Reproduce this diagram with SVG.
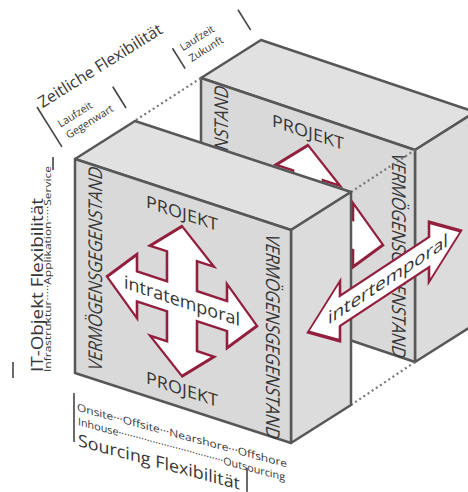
<svg xmlns="http://www.w3.org/2000/svg" width="468" height="492" viewBox="0 0 468 492">
  <style>
    .txt { font-family: "Open Sans", "DejaVu Sans", sans-serif; fill: #363636; }
    .face-front { fill: #d9d9d9; stroke: #575757; stroke-width: 2.5; stroke-linejoin: round; }
    .face-top { fill: #e1e1e1; stroke: #575757; stroke-width: 2.5; stroke-linejoin: round; }
    .face-side { fill: #dcdcdc; stroke: #575757; stroke-width: 2.5; stroke-linejoin: round; }
    .arrow { fill: #ffffff; stroke: #921f3e; stroke-width: 2.6; stroke-linejoin: miter; }
    .tick { stroke: #444444; stroke-width: 1.6; fill: none; }
    .dotted { stroke: #777777; stroke-width: 2.2; stroke-dasharray: 2 3; fill: none; }
  </style>
  <defs>
    <!-- contents of a block's front face, in face coordinates (skewed 18°) -->
    <path id="cross" class="arrow"
      d="M107,32 L139,62 L122,62 L122,92 L152,92 L152,75 L182,107 L152,139 L152,122 L122,122 L122,152 L139,152 L107,182 L75,152 L92,152 L92,122 L62,122 L62,139 L32,107 L62,75 L62,92 L92,92 L92,62 L75,62 Z"/>
    <text id="label-top" class="txt" x="107" y="25" font-size="17" text-anchor="middle" textLength="72" lengthAdjust="spacingAndGlyphs">PROJEKT</text>
    <text id="label-left" class="txt" transform="translate(27,204) rotate(-90)" font-size="19" textLength="203" lengthAdjust="spacingAndGlyphs">VERMÖGENSGEGENSTAND</text>
    <text id="label-right" class="txt" transform="translate(191,11) rotate(90)" font-size="19" textLength="204" lengthAdjust="spacingAndGlyphs">VERMÖGENSGEGENSTAND</text>
  </defs>

  <!-- axis: Zeitliche Flexibilität -->
  <g id="axis-zeit" transform="translate(37,107) rotate(-32)">
    <line class="tick" x1="0" y1="0" x2="0" y2="47"/>
    <line class="tick" x1="75" y1="23" x2="75" y2="48"/>
    <line class="tick" x1="146" y1="22" x2="146" y2="46"/>
    <line class="tick" x1="222" y1="24" x2="222" y2="48"/>
    <text class="txt" x="4" y="4" font-size="16" textLength="143" lengthAdjust="spacingAndGlyphs">Zeitliche Flexibilität</text>
    <text class="txt" x="9" y="30" font-size="10.5">Laufzeit</text>
    <text class="txt" x="10" y="44" font-size="10.5">Gegenwart</text>
    <text class="txt" x="153" y="30" font-size="10.5">Laufzeit</text>
    <text class="txt" x="155" y="44" font-size="10.5">Zukunft</text>
  </g>

  <!-- axis: IT-Objekt Flexibilität -->
  <g id="axis-it">
    <line class="tick" x1="13" y1="362" x2="13" y2="378"/>
    <line class="tick" x1="53" y1="157" x2="53" y2="170"/>
    <text class="txt" transform="translate(43,372) rotate(-90)" font-size="16" textLength="174" lengthAdjust="spacingAndGlyphs">IT-Objekt Flexibilität</text>
    <text class="txt" transform="translate(51,372) rotate(-90)" font-size="9.5" textLength="206" lengthAdjust="spacingAndGlyphs">Infrastruktur·····Applikation·····Service</text>
  </g>

  <!-- axis: Sourcing Flexibilität -->
  <g id="axis-sourcing" transform="matrix(1,0.27,0,1,74,393)">
    <line class="tick" x1="0" y1="0" x2="0" y2="49"/>
    <line class="tick" x1="173" y1="28" x2="173" y2="52"/>
    <text class="txt" x="3" y="17" font-size="10.5" textLength="210" lengthAdjust="spacingAndGlyphs">Onsite···Offsite···Nearshore···Offshore</text>
    <text class="txt" x="4" y="31" font-size="10.5" textLength="207" lengthAdjust="spacingAndGlyphs">Inhouse·····································Outsourcing</text>
    <text class="txt" x="4" y="52" font-size="17" textLength="162" lengthAdjust="spacingAndGlyphs">Sourcing Flexibilität</text>
  </g>

  <!-- rear block -->
  <g id="block-rear">
    <polygon class="face-top" points="201,78 261,40 475,112 415,150"/>
    <polygon class="face-side" points="415,150 475,112 475,324 415,362"/>
    <polygon class="face-front" points="201,78 415,150 415,362 201,290"/>
    <g transform="matrix(1,0.329,0,1,201,78)">
      <use href="#cross"/>
      <use href="#label-top"/>
      <use href="#label-left"/>
      <use href="#label-right"/>
    </g>
  </g>

  <!-- hidden edges between the two blocks -->
  <g id="connectors">
    <line class="dotted" x1="136" y1="120" x2="201" y2="78"/>
    <line class="dotted" x1="351" y1="192" x2="415" y2="150"/>
    <line class="dotted" x1="351" y1="405" x2="415" y2="362"/>
  </g>

  <!-- front block -->
  <g id="block-front">
    <polygon class="face-top" points="75,159 135,121 351,192 291,230"/>
    <polygon class="face-side" points="291,230 351,192 351,405 291,443"/>
    <polygon class="face-front" points="75,159 291,230 291,443 75,373"/>
    <g transform="matrix(1,0.329,0,1,75,159)">
      <use href="#cross"/>
      <use href="#label-top"/>
      <text class="txt" x="107" y="113" font-size="18" text-anchor="middle" textLength="116" lengthAdjust="spacingAndGlyphs">intratemporal</text>
      <text class="txt" x="107" y="201" font-size="17" text-anchor="middle" textLength="72" lengthAdjust="spacingAndGlyphs">PROJEKT</text>
      <use href="#label-left"/>
      <use href="#label-right"/>
    </g>
  </g>

  <!-- double arrow across the depth axis -->
  <g id="arrow-intertemporal" transform="matrix(1,-0.66,0,1,308,332)">
    <path class="arrow" d="M0,0 L32,-30 L32,-15 L121,-15 L121,-30 L153,0 L121,30 L121,15 L32,15 L32,30 Z"/>
    <text class="txt" x="80" y="6" font-size="18" text-anchor="middle" textLength="120" lengthAdjust="spacingAndGlyphs">intertemporal</text>
  </g>
</svg>
